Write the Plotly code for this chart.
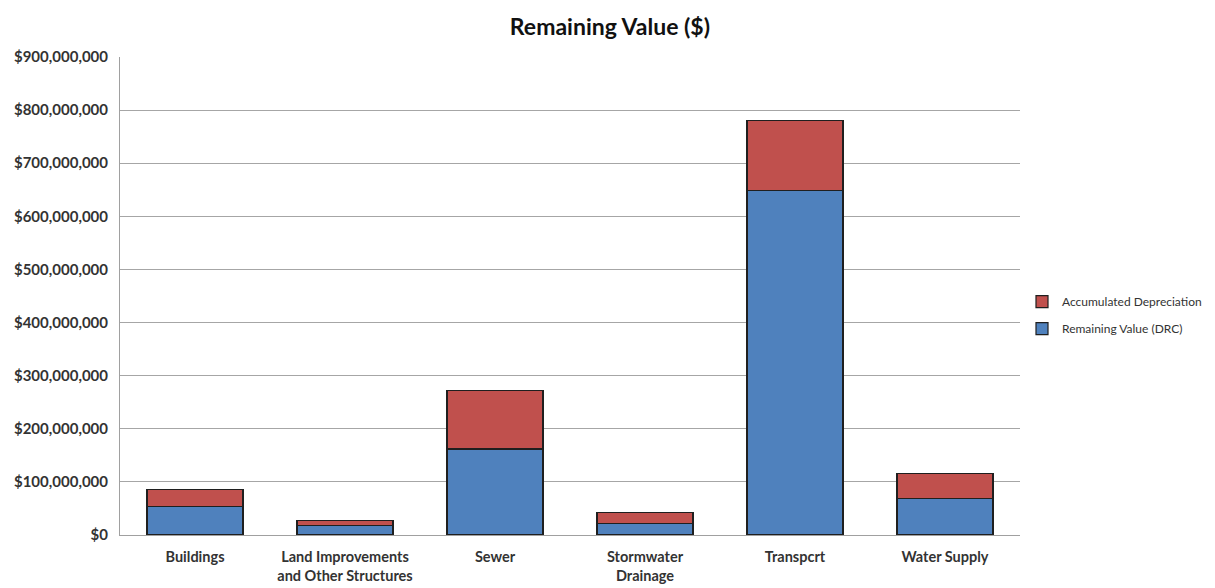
import plotly.graph_objects as go

categories = ["Buildings", "Land Improvements<br>and Other Structures", "Sewer",
              "Stormwater<br>Drainage", "Transpcrt", "Water Supply"]
remaining_value = [53e6, 18e6, 162e6, 21e6, 649e6, 69e6]
accumulated_dep = [32e6, 10e6, 110e6, 22e6, 132e6, 47e6]
tick_vals = [0, 100e6, 200e6, 300e6, 400e6, 500e6, 600e6, 700e6, 800e6, 900e6]
tick_text = ["$0", "$100,000,000", "$200,000,000", "$300,000,000", "$400,000,000",
             "$500,000,000", "$600,000,000", "$700,000,000", "$800,000,000", "$900,000,000"]

FONT = "Lato, 'Open Sans', sans-serif"

fig = go.Figure()
fig.add_trace(go.Bar(x=categories, y=remaining_value, name="Remaining Value (DRC)",
                     legendgroup="rv", legendrank=2,
                     marker=dict(color="#4F81BD", line=dict(color="#1f1f1f", width=1.2))))
fig.add_trace(go.Bar(x=categories, y=accumulated_dep, name="Accumulated Depreciation",
                     legendgroup="ad", legendrank=1,
                     marker=dict(color="#C0504D", line=dict(color="#1f1f1f", width=1.2))))

fig.update_layout(
    width=1215, height=588,
    barmode="stack", bargap=0.36,
    paper_bgcolor="white", plot_bgcolor="white",
    margin=dict(l=120, r=195, t=57, b=53),
    font=dict(family=FONT, color="#222"),
    title=dict(text="<b>Remaining Value ($)</b>", x=0.502, xref="container", xanchor="center",
               y=0.955, yref="container", yanchor="middle",
               font=dict(size=23, family=FONT, color="#111")),
    legend=dict(traceorder="grouped", x=1022 / 1215, xanchor="left", xref="container",
                y=0.46, yanchor="middle",
                font=dict(size=12, family=FONT, color="#333"), itemwidth=30,
                tracegroupgap=8),
    xaxis=dict(showline=True, linecolor="#a0a0a0", linewidth=1, ticks="",
               ticklabelstandoff=9, automargin=False,
               tickfont=dict(size=14.5, family=FONT, color="#333", weight="bold")),
    yaxis=dict(range=[0, 900e6], tickvals=tick_vals, ticktext=tick_text,
               showgrid=True, gridcolor="#a6a6a6", gridwidth=1,
               showline=True, linecolor="#a0a0a0", linewidth=1, ticks="",
               zeroline=False, ticklabelstandoff=8, automargin=False,
               tickfont=dict(size=15, family=FONT, color="#333", weight="bold")),
)

fig.write_html("out.html")
